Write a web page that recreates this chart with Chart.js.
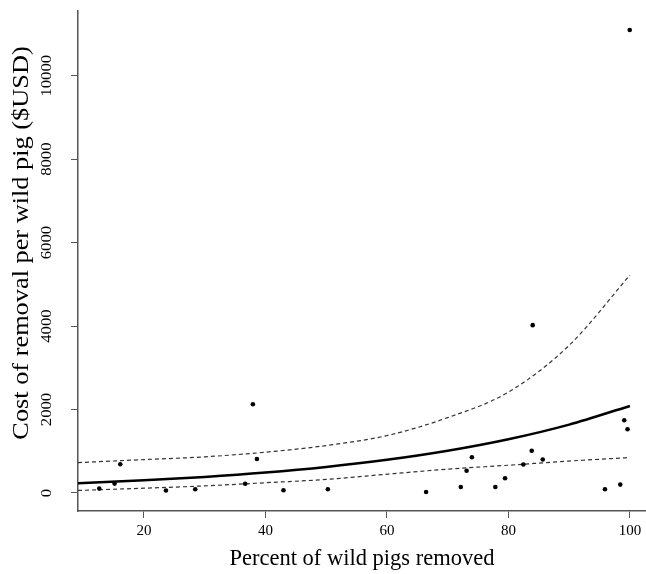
<!DOCTYPE html>
<html><head><meta charset="utf-8">
<script src="https://cdn.jsdelivr.net/npm/chart.js@4/dist/chart.umd.min.js"></script>
<style>html,body{margin:0;padding:0;background:#fff;}canvas{display:block;}</style>
</head><body>
<canvas id="c" width="646" height="574"></canvas>
<script>
// Observed sites
const pctRemoved = [12.65, 15.17, 16.11, 23.63, 28.45, 36.67, 37.94, 38.6, 42.97, 50.28, 66.45, 72.16, 73.12, 73.99, 77.85, 79.45, 82.46, 83.84, 84.0, 85.65, 95.9, 98.41, 99.07, 99.61, 99.97];
const costPerPig = [105, 225, 688, 60, 89, 220, 2127, 815, 65, 89, 24, 144, 532, 856, 144, 353, 683, 1012, 4022, 801, 89, 201, 1743, 1528, 11096];
// Fitted curve and confidence band
const curveX = [9.15, 20, 30, 40, 50, 60, 70, 80, 90, 100];
const fitCost = [232, 302, 385, 490, 624, 794, 1011, 1287, 1638, 2086];
const upperCost = [728, 800, 866, 977, 1137, 1376, 1806, 2417, 3538, 5221];
const lowerCost = [60, 115, 170, 245, 325, 450, 570, 665, 765, 849];
// Axes
const xTicks = [20, 40, 60, 80, 100];
const yTicks = [0, 2000, 4000, 6000, 8000, 10000];
const xTitle = 'Percent of wild pigs removed';
const yTitle = 'Cost of removal per wild pig ($USD)';

const SERIF = '"Liberation Serif", "Times New Roman", serif';
const toXY = (xs, ys) => xs.map((x, i) => ({x: x, y: ys[i]}));

// Vertical text (y tick labels and y title), slightly stretched like the reference
const yTextPlugin = {
  id: 'yText',
  afterDraw(chart) {
    const ctx = chart.ctx, s = chart.scales.y;
    ctx.save();
    ctx.fillStyle = '#000';
    ctx.textAlign = 'center';
    ctx.textBaseline = 'middle';
    ctx.font = '14.5px ' + SERIF;
    yTicks.forEach(v => {
      const y = s.getPixelForValue(v);
      ctx.save();
      ctx.translate(47, y);
      ctx.rotate(-Math.PI / 2);
      ctx.scale(1.15, 1);
      ctx.fillText(String(v), 0, 0);
      ctx.restore();
    });
    ctx.font = '22.5px ' + SERIF;
    ctx.save();
    ctx.translate(22, 243);
    ctx.rotate(-Math.PI / 2);
    ctx.scale(1.17, 1);
    ctx.fillText(yTitle, 0, 0);
    ctx.restore();
    ctx.restore();
  }
};

const lineDs = (data, width, dash, color) => ({
  data: data, showLine: true, pointRadius: 0, borderColor: color, borderWidth: width,
  borderDash: dash, fill: false, cubicInterpolationMode: 'monotone'
});

new Chart(document.getElementById('c'), {
  type: 'scatter',
  data: {
    datasets: [
      {data: toXY(pctRemoved, costPerPig), pointRadius: 2.3, pointBackgroundColor: '#000', pointBorderWidth: 0, showLine: false},
      lineDs(toXY(curveX, fitCost), 2.5, [], '#000'),
      lineDs(toXY(curveX, upperCost), 1.2, [4, 3], '#333'),
      lineDs(toXY(curveX, lowerCost), 1.2, [4, 3], '#333')
    ]
  },
  options: {
    responsive: false,
    animation: false,
    devicePixelRatio: 1,
    events: [],
    layout: {autoPadding: false, padding: {left: 0, right: 0, top: 11, bottom: 0}},
    plugins: {legend: {display: false}, tooltip: {enabled: false}},
    scales: {
      x: {
        type: 'linear', min: 9.15, max: 102.65,
        afterBuildTicks: s => { s.ticks = xTicks.map(v => ({value: v})); },
        afterFit: s => { s.height = 63; s.paddingLeft = 0; s.paddingRight = 0; },
        grid: {drawOnChartArea: false, drawTicks: true, tickLength: 7, color: '#555', lineWidth: 1},
        border: {display: true, color: '#555', width: 1.5},
        ticks: {color: '#000', font: {family: SERIF, size: 15}, padding: 4, maxRotation: 0, callback: v => String(v)},
        title: {display: true, text: xTitle, color: '#000', font: {family: SERIF, size: 22.5}, padding: {top: 0, bottom: 1}}
      },
      y: {
        type: 'linear', min: -432, max: 11551,
        afterBuildTicks: s => { s.ticks = yTicks.map(v => ({value: v})); },
        afterFit: s => { s.width = 78; s.paddingTop = 0; s.paddingBottom = 0; },
        grid: {drawOnChartArea: false, drawTicks: true, tickLength: 7, color: '#555', lineWidth: 1},
        border: {display: true, color: '#555', width: 1.5},
        ticks: {display: false},
        title: {display: false, text: yTitle}
      }
    }
  },
  plugins: [yTextPlugin]
});
</script>
</body></html>
